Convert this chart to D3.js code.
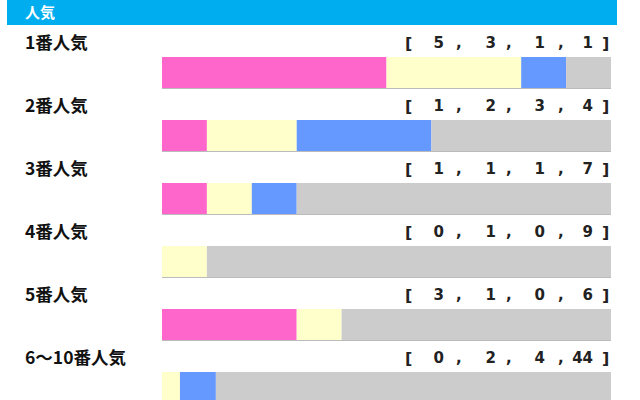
<!DOCTYPE html>
<html><head><meta charset="utf-8">
<script src="https://cdn.jsdelivr.net/npm/d3@7"></script>
<style>
html,body{margin:0;padding:0;background:#fff;}
svg{display:block;}
</style></head>
<body>
<svg id="chart" width="640" height="400"></svg>
<script>
const title = "人気";
const categories = ["1番人気","2番人気","3番人気","4番人気","5番人気","6～10番人気"];
const firsts  = [5,1,1,0,3,0];
const seconds = [3,2,1,1,1,2];
const thirds  = [1,3,1,0,0,4];
const others  = [1,4,7,9,6,44];
const seriesColors = ["#FF66CC","#FFFFCC","#6699FF","#CCCCCC"];

const svg = d3.select("#chart");
const labelFont = "'Noto Sans CJK JP','Noto Sans',sans-serif";
const numFont = "'DejaVu Sans','Noto Sans',sans-serif";

// header
svg.append("rect").attr("x",7).attr("y",0).attr("width",610).attr("height",25).attr("fill","#00AEEF");
svg.append("text").attr("x",25).attr("y",18).attr("fill","#fff")
  .attr("font-family",labelFont).attr("font-weight","bold").attr("font-size",15).text(title);

const rowY = d3.scalePoint().domain(categories).range([0, 315]);
const barX0 = 162, barW = 449;
const series = [firsts, seconds, thirds, others];

categories.forEach((cat,i)=>{
  const vals = series.map(s=>s[i]);
  const total = d3.sum(vals);
  const x = d3.scaleLinear().domain([0,total]).range([barX0, barX0+barW]);
  const y0 = rowY(cat);
  const g = svg.append("g");
  g.append("text").attr("x",25).attr("y",y0+48.5)
    .attr("font-family",labelFont).attr("font-weight","bold").attr("font-size",17.5)
    .attr("fill","#111").text(cat);
  let cum = 0;
  vals.forEach((v,k)=>{
    g.append("rect").attr("x",x(cum)).attr("y",y0+57)
      .attr("width",x(cum+v)-x(cum)).attr("height",31).attr("fill",seriesColors[k]);
    cum += v;
  });
  g.append("line").attr("x1",barX0).attr("x2",barX0+barW).attr("y1",y0+88.5).attr("y2",y0+88.5)
    .attr("stroke","#bbb").attr("stroke-width",1);
  const ty = y0+48;
  const tg = g.append("g").attr("font-family",numFont).attr("font-weight","bold")
    .attr("font-size",15).attr("fill","#222");
  tg.append("text").attr("x",405).attr("y",ty+0.5).attr("font-size",16).text("[");
  const ends = [444,496,545,593];
  const commas = [456,506,558];
  vals.forEach((v,k)=>{
    tg.append("text").attr("x",ends[k]).attr("y",ty).attr("text-anchor","end").text(v);
    if(k<3) tg.append("text").attr("x",commas[k]).attr("y",ty).text(",");
  });
  tg.append("text").attr("x",602).attr("y",ty+0.5).attr("font-size",16).text("]");
});
</script>
</body></html>
